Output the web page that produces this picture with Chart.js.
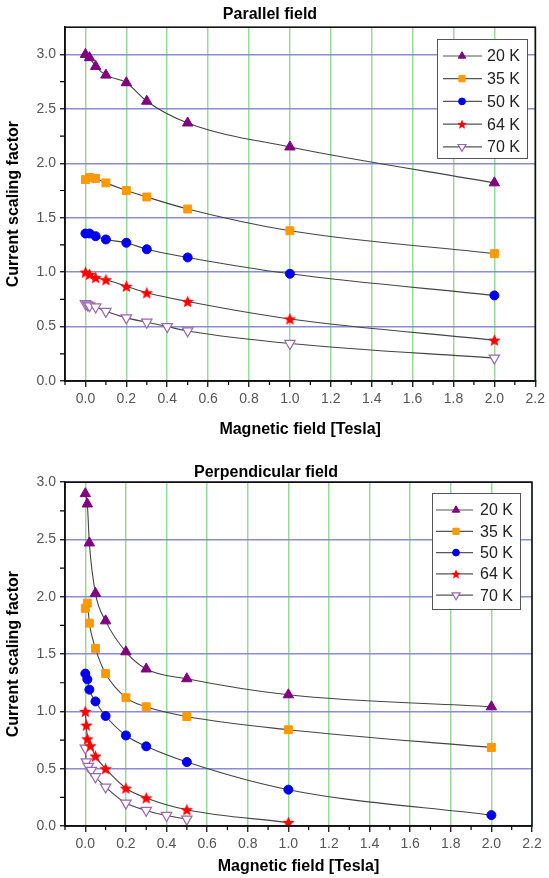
<!DOCTYPE html>
<html>
<head>
<meta charset="utf-8">
<title>Current scaling factor</title>
<script src="https://cdn.jsdelivr.net/npm/chart.js@4.4.1/dist/chart.umd.min.js"></script>
<style>
  html, body { margin: 0; padding: 0; background: #fff; }
  #wrap { position: relative; width: 549px; height: 878px; }
  #parChart { position: absolute; left: 0; top: 0; }
  #perpChart { position: absolute; left: 0; top: 440px; }
</style>
</head>
<body>
<div id="wrap">
  <canvas id="parChart" width="549" height="440"></canvas>
  <canvas id="perpChart" width="549" height="438"></canvas>
</div>
<script>
const tempLabels = ['20 K', '35 K', '50 K', '64 K', '70 K'];
const xTicks = [0, 0.2, 0.4, 0.6, 0.8, 1.0, 1.2, 1.4, 1.6, 1.8, 2.0, 2.2];
const yTicks = [0, 0.5, 1.0, 1.5, 2.0, 2.5, 3.0];

// parallel field
const parField   = [0, 0.02, 0.05, 0.1, 0.2, 0.3, 0.5, 1, 2];
const parField70 = [0, 0.01, 0.02, 0.05, 0.1, 0.2, 0.3, 0.4, 0.5, 1, 2];
const par20 = [3.00, 2.97, 2.89, 2.81, 2.74, 2.57, 2.37, 2.15, 1.82];
const par35 = [1.85, 1.87, 1.86, 1.82, 1.75, 1.69, 1.58, 1.38, 1.17];
const par50 = [1.355, 1.355, 1.33, 1.30, 1.27, 1.21, 1.135, 0.985, 0.786];
const par64 = [1.00, 0.98, 0.95, 0.93, 0.87, 0.81, 0.73, 0.57, 0.375];
const par70 = [0.71, 0.70, 0.69, 0.68, 0.64, 0.58, 0.54, 0.50, 0.46, 0.345, 0.21];

// perpendicular field
const perpField   = [0, 0.01, 0.02, 0.05, 0.1, 0.2, 0.3, 0.5, 1, 2];
const perpField64 = [0, 0.005, 0.01, 0.025, 0.05, 0.1, 0.2, 0.3, 0.5, 1];
const perpField70 = [0, 0.005, 0.015, 0.03, 0.05, 0.1, 0.2, 0.3, 0.4, 0.5];
const perp20 = [2.90, 2.81, 2.47, 2.03, 1.79, 1.52, 1.37, 1.285, 1.145, 1.04];
const perp35 = [1.90, 1.945, 1.77, 1.55, 1.33, 1.12, 1.04, 0.955, 0.84, 0.685];
const perp50 = [1.33, 1.28, 1.19, 1.087, 0.96, 0.79, 0.695, 0.558, 0.317, 0.095];
const perp64 = [1.00, 0.88, 0.76, 0.70, 0.61, 0.50, 0.33, 0.245, 0.142, 0.03];
const perp70 = [0.68, 0.56, 0.52, 0.485, 0.43, 0.34, 0.20, 0.136, 0.092, 0.06];

const FONT = '"Liberation Sans", Arial, sans-serif';
Chart.defaults.font.family = FONT;

function makeStar(size, color) {
  const c = document.createElement('canvas');
  c.width = size; c.height = size;
  const g = c.getContext('2d');
  const R = size / 2, r = R * 0.45;
  g.beginPath();
  for (let i = 0; i < 10; i++) {
    const a = -Math.PI / 2 + i * Math.PI / 5;
    const rad = i % 2 ? r : R;
    g.lineTo(R + rad * Math.cos(a), R + 0.6 + rad * Math.sin(a));
  }
  g.closePath();
  g.fillStyle = color;
  g.fill();
  return c;
}

const marks = [
  { style: 'triangle', r: 6, lr: 4.3, rot: 0, fill: '#800080', stroke: '#800080', bw: 1 },
  { style: 'rect', r: 5.6, lr: 4.4, rot: 0, fill: '#ff9900', stroke: '#ff9900', bw: 1 },
  { style: 'circle', r: 4.5, lr: 3.4, rot: 0, fill: '#0000ee', stroke: '#0000ee', bw: 1 },
  { style: makeStar(13, '#ff0000'), legendStyle: makeStar(10, '#ff0000'), r: 6, lr: 4, rot: 0, fill: '#ff0000', stroke: '#ff0000', bw: 0 },
  { style: 'triangle', r: 6, lr: 4.6, rot: 180, fill: '#ffffff', stroke: '#9a66b0', bw: 1.2 }
];

function frameAndLegend(box) {
  return {
    id: 'frameAndLegend',
    afterDatasetsDraw(chart) {
      const { ctx, chartArea: a, scales: { x, y } } = chart;
      ctx.save();
      // minor ticks
      ctx.strokeStyle = '#000';
      ctx.lineWidth = 1.2;
      ctx.beginPath();
      const xStep = xTicks[1] - xTicks[0];
      for (let i = -1; i < xTicks.length - 1; i++) {
        const v = xTicks[Math.max(i, 0)] + (i < 0 ? -xStep / 2 : xStep / 2);
        if (v < x.min - 1e-6 || v > x.max + 1e-6) continue;
        const px = x.getPixelForValue(v);
        ctx.moveTo(px, a.bottom); ctx.lineTo(px, a.bottom + 4);
      }
      const yStep = yTicks[1] - yTicks[0];
      for (let i = 0; i < yTicks.length; i++) {
        const v = yTicks[i] + yStep / 2;
        if (v > y.max - 0.01) continue;
        const py = y.getPixelForValue(v);
        ctx.moveTo(a.left, py); ctx.lineTo(a.left - 5, py);
      }
      ctx.stroke();
      // frame
      ctx.lineWidth = 1.6;
      ctx.strokeStyle = '#111';
      ctx.strokeRect(a.left, a.top, a.right - a.left, a.bottom - a.top);
      // legend
      const L = box.legend;
      ctx.fillStyle = '#fff';
      ctx.fillRect(L.x, L.y, L.w, L.h);
      ctx.strokeStyle = '#555';
      ctx.lineWidth = 1;
      ctx.strokeRect(L.x + 0.5, L.y + 0.5, L.w, L.h);
      chart.data.datasets.forEach((ds, i) => {
        const m = marks[i];
        const cy = L.y + L.first + i * L.rowH;
        ctx.strokeStyle = '#555';
        ctx.lineWidth = 1.2;
        ctx.beginPath();
        ctx.moveTo(L.x + L.lineL, cy); ctx.lineTo(L.x + L.lineR, cy);
        ctx.stroke();
        ctx.fillStyle = m.fill;
        ctx.strokeStyle = m.stroke;
        ctx.lineWidth = m.bw;
        Chart.helpers.drawPoint(ctx, {
          pointStyle: m.legendStyle || m.style, radius: m.lr, rotation: m.rot, borderWidth: m.bw
        }, L.x + L.mark, cy);
        ctx.fillStyle = '#222';
        ctx.font = '16px ' + FONT;
        ctx.textBaseline = 'middle';
        ctx.textAlign = 'left';
        ctx.fillText(ds.label, L.x + L.text, cy + 1);
      });
      ctx.restore();
    }
  };
}

function buildChart(id, title, fields, values, yMax, box) {
  const datasets = values.map((vals, i) => ({
    label: tempLabels[i],
    data: vals.map((v, j) => ({ x: fields[i][j], y: v })),
    showLine: true,
    borderColor: '#444',
    borderWidth: 1.1,
    cubicInterpolationMode: 'monotone',
    pointStyle: marks[i].style,
    pointRadius: marks[i].r,
    pointHoverRadius: marks[i].r,
    pointRotation: marks[i].rot,
    pointBackgroundColor: marks[i].fill,
    pointBorderColor: marks[i].stroke,
    pointBorderWidth: marks[i].bw
  }));
  return new Chart(document.getElementById(id), {
    type: 'scatter',
    data: { datasets },
    options: {
      responsive: false,
      animation: false,
      layout: { padding: { left: 0, right: box.padRight, top: 0, bottom: 0 } },
      plugins: {
        legend: { display: false },
        tooltip: { enabled: false },
        title: {
          display: true, text: title, color: '#000',
          font: { family: FONT, size: 16, weight: 'bold' },
          padding: box.titlePad
        }
      },
      scales: {
        x: {
          type: 'linear', min: -0.1, max: 2.2,
          afterBuildTicks: s => { s.ticks = xTicks.map(v => ({ value: v })); },
          afterFit: s => { s.height = box.xAxisH; },
          grid: { color: '#96dc96', lineWidth: 1.5, tickColor: '#000', tickLength: 6, tickWidth: 1.2 },
          border: { color: '#111', width: 1.6 },
          ticks: {
            color: '#555', font: { family: FONT, size: 14 }, padding: 4,
            maxRotation: 0, autoSkip: false, callback: v => Number(v).toFixed(1)
          },
          title: {
            display: true, text: 'Magnetic field [Tesla]', color: '#000',
            font: { family: FONT, size: 16, weight: 'bold' },
            padding: { top: 0, bottom: box.xTitlePad }
          }
        },
        y: {
          type: 'linear', min: 0, max: yMax,
          afterBuildTicks: s => { s.ticks = yTicks.map(v => ({ value: v })); },
          afterFit: s => { s.width = 65; },
          grid: { color: '#8c8cd4', lineWidth: 1.5, tickColor: '#000', tickLength: 5, tickWidth: 1.2 },
          border: { color: '#111', width: 1.6 },
          ticks: {
            color: '#555', font: { family: FONT, size: 14 }, padding: 4,
            callback: v => Number(v).toFixed(1)
          },
          title: {
            display: true, text: 'Current scaling factor', color: '#000',
            font: { family: FONT, size: 16, weight: 'bold' },
            padding: { top: 4, bottom: 0 }
          }
        }
      }
    },
    plugins: [frameAndLegend(box)]
  });
}

buildChart('parChart', 'Parallel field',
  [parField, parField, parField, parField, parField70],
  [par20, par35, par50, par64, par70], 3.25,
  {
    padRight: 9, titlePad: { top: 5, bottom: 3 }, xAxisH: 59, xTitlePad: 1,
    legend: { x: 437, y: 39, w: 90, h: 119, first: 17, rowH: 22.7, lineL: 6, lineR: 45, mark: 25, text: 50 }
  });

buildChart('perpChart', 'Perpendicular field',
  [perpField, perpField, perpField, perpField64, perpField70],
  [perp20, perp35, perp50, perp64, perp70], 3.0,
  {
    padRight: 17, titlePad: { top: 23, bottom: 0 }, xAxisH: 52, xTitlePad: 2,
    legend: { x: 432, y: 53, w: 88, h: 116, first: 17, rowH: 21.3, lineL: 4, lineR: 41, mark: 24, text: 48 }
  });
</script>
</body>
</html>
